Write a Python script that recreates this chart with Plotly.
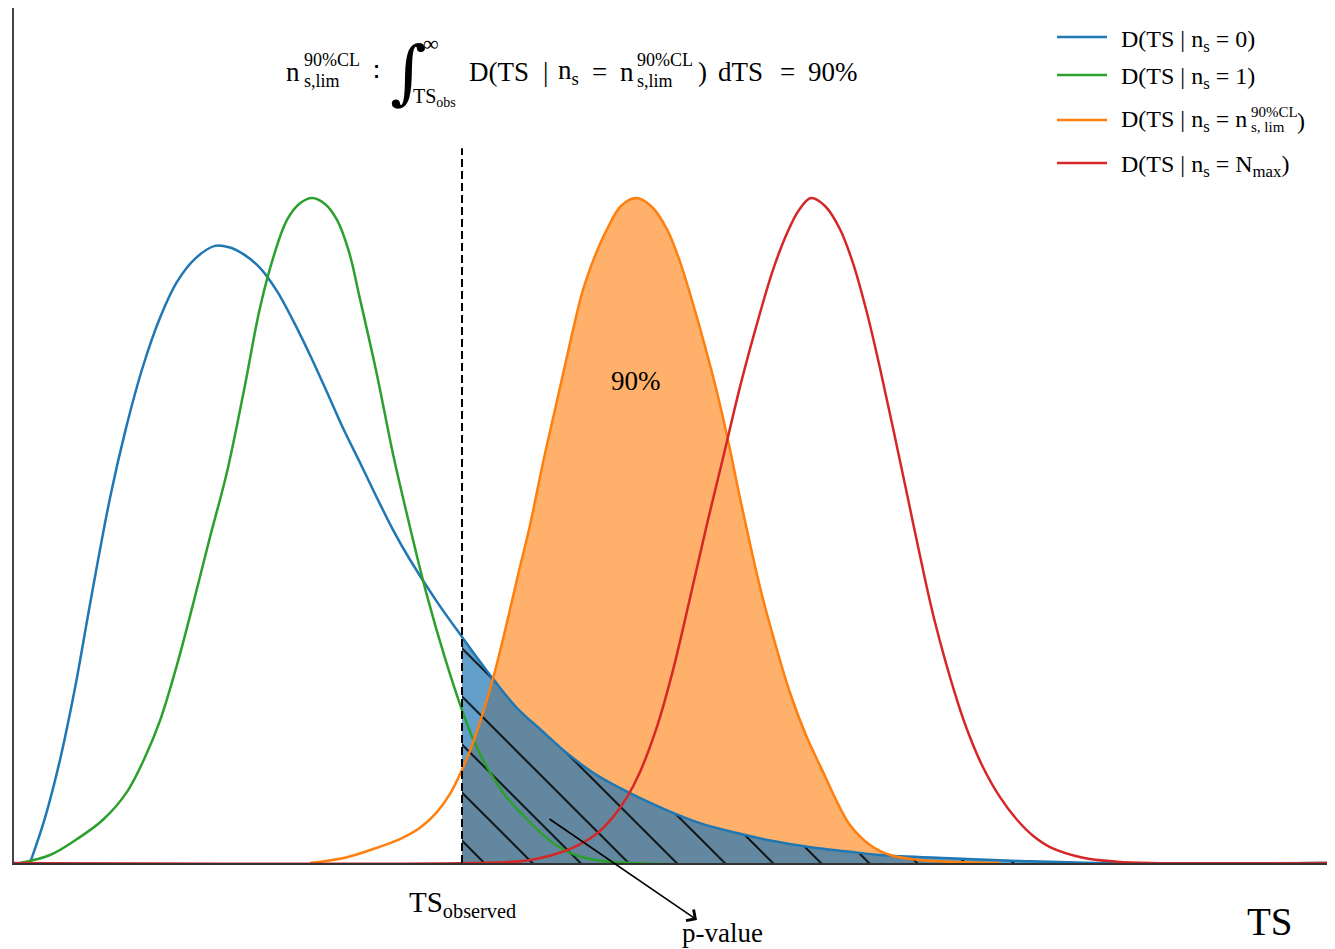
import plotly.graph_objects as go

# ---------------- data ----------------
TS_OBS = 4.48          # observed test statistic (dashed line)
TS_LINE_TOP = 1.075    # top of the dashed marker line

# D(TS | n_s = 0)
ts_bg = [0.16, 0.31, 0.46, 0.61, 0.76, 0.96, 1.12, 1.29, 1.46, 1.63, 1.82, 2.01,
         2.15, 2.29, 2.46, 2.63, 2.79, 2.96, 3.13, 3.29, 3.46, 3.63, 3.79, 3.96,
         4.22, 4.48, 4.80, 5.03, 5.27, 5.53, 5.80, 6.16, 6.52, 6.86, 7.23, 7.59,
         7.95, 8.36, 8.66, 9.36, 10.06, 10.86, 13.21]
d_bg = [0.000, 0.068, 0.155, 0.263, 0.389, 0.549, 0.654, 0.747, 0.820, 0.874,
        0.910, 0.928, 0.926, 0.916, 0.895, 0.860, 0.816, 0.764, 0.708, 0.654,
        0.602, 0.549, 0.501, 0.456, 0.395, 0.340, 0.275, 0.233, 0.200, 0.165,
        0.135, 0.105, 0.080, 0.060, 0.045, 0.033, 0.024, 0.017, 0.012, 0.007,
        0.003, 0.000, 0.000]

# D(TS | n_s = 1)
ts_n1 = [0.06, 0.36, 0.63, 0.89, 1.13, 1.31, 1.46, 1.63, 1.79, 1.96, 2.13, 2.30,
         2.46, 2.60, 2.73, 2.86, 2.98, 3.11, 3.23, 3.35, 3.46, 3.63, 3.79, 3.96,
         4.13, 4.31, 4.48, 4.60, 4.73, 4.91, 5.09, 5.27, 5.45, 5.63, 5.80, 6.16,
         13.21]
d_n1 = [0.000, 0.012, 0.036, 0.065, 0.107, 0.159, 0.214, 0.298, 0.389, 0.490,
        0.588, 0.711, 0.835, 0.914, 0.967, 0.992, 1.000, 0.991, 0.967, 0.919,
        0.848, 0.734, 0.615, 0.505, 0.402, 0.308, 0.230, 0.183, 0.144, 0.102,
        0.072, 0.045, 0.024, 0.011, 0.005, 0.000, 0.000]

# D(TS | n_s = n_s,lim^90%CL)
ts_lim = [2.96, 3.31, 3.63, 3.86, 4.06, 4.22, 4.36, 4.48, 4.57, 4.66, 4.80, 4.93,
          5.04, 5.16, 5.29, 5.43, 5.56, 5.69, 5.81, 5.93, 6.07, 6.22, 6.37, 6.53,
          6.66, 6.79, 6.91, 7.03, 7.15, 7.26, 7.46, 7.61, 7.76, 7.92, 8.09, 8.23,
          8.36, 8.56, 8.76, 9.03, 9.36, 9.86]
d_lim = [0.000, 0.008, 0.023, 0.036, 0.053, 0.075, 0.104, 0.140, 0.173, 0.212,
         0.283, 0.362, 0.433, 0.508, 0.602, 0.695, 0.782, 0.862, 0.913, 0.953,
         0.988, 1.000, 0.988, 0.953, 0.904, 0.841, 0.777, 0.708, 0.629, 0.549,
         0.415, 0.331, 0.256, 0.192, 0.137, 0.092, 0.057, 0.027, 0.012, 0.005,
         0.002, 0.000]

# D(TS | n_s = N_max)
ts_max = [0.00, 4.59, 5.09, 5.36, 5.59, 5.81, 5.99, 6.13, 6.26, 6.43, 6.59, 6.79,
          6.94, 7.09, 7.27, 7.46, 7.59, 7.73, 7.85, 7.97, 8.11, 8.26, 8.39, 8.53,
          8.66, 8.79, 8.93, 9.06, 9.21, 9.43, 9.56, 9.69, 9.86, 10.03, 10.19,
          10.36, 10.69, 11.03, 11.36, 13.21]
d_max = [0.000, 0.000, 0.003, 0.011, 0.023, 0.042, 0.069, 0.099, 0.137, 0.205,
         0.290, 0.418, 0.516, 0.609, 0.722, 0.827, 0.892, 0.947, 0.982, 1.000,
         0.988, 0.953, 0.902, 0.827, 0.744, 0.654, 0.555, 0.462, 0.362, 0.245,
         0.189, 0.144, 0.099, 0.065, 0.041, 0.024, 0.008, 0.002, 0.000, 0.000]

colors = ["#1f77b4", "#2ca02c", "#ff7f0e", "#d62728"]

# ---------------- layout geometry ----------------
# the page body adds an 8px offset; picture coordinates = figure coordinates + 8
OFF = 8
W, H = 1335 - OFF, 949 - OFF
PLOT_L, PLOT_T, BASE = 14, 8, 863          # picture pixels
ML, MR, MT = PLOT_L - OFF, 0, PLOT_T - OFF
MB = H - (BASE - OFF)
PW, PH = W - ML - MR, BASE - PLOT_T
X_MAX = PW / 100.0
Y_MAX = PH / 665.0
SERIF = "Liberation Serif, Times New Roman, serif"


def px(x):
    return (x - PLOT_L) / PW


def py(y):
    return (BASE - y) / PH


fig = go.Figure()

# orange 90% area (right of TS_obs)
xo = [t for t in ts_lim if t >= TS_OBS]
yo = [d for t, d in zip(ts_lim, d_lim) if t >= TS_OBS]
fig.add_trace(go.Scatter(x=xo, y=yo, mode="lines",
                         line=dict(width=0, shape="spline", smoothing=1.0),
                         fill="tozeroy", fillcolor="rgba(255,127,14,0.62)",
                         showlegend=False, hoverinfo="skip"))

# blue hatched p-value area (right of TS_obs)
xb = [t for t in ts_bg if t >= TS_OBS]
yb = [d for t, d in zip(ts_bg, d_bg) if t >= TS_OBS]
fig.add_trace(go.Scatter(x=xb, y=yb, mode="lines",
                         line=dict(width=0, shape="spline", smoothing=1.0),
                         fill="tozeroy", fillcolor="rgba(31,119,180,0.7)",
                         fillpattern=dict(shape="\\", fgcolor="black", fgopacity=1,
                                          bgcolor="rgba(31,119,180,0.7)",
                                          size=34, solidity=0.05),
                         showlegend=False, hoverinfo="skip"))

for xs, ys, c in [(ts_bg, d_bg, colors[0]), (ts_n1, d_n1, colors[1]),
                  (ts_lim, d_lim, colors[2]), (ts_max, d_max, colors[3])]:
    fig.add_trace(go.Scatter(x=xs, y=ys, mode="lines",
                             line=dict(color=c, width=2.5, shape="spline", smoothing=1.0),
                             showlegend=False))

shapes = [dict(type="line", xref="x", yref="y", x0=TS_OBS, x1=TS_OBS, y0=0, y1=TS_LINE_TOP,
               line=dict(color="black", width=2, dash="8px,4px"))]

ann = []


def txt(x, y, s, size, anchor="left", font=SERIF):
    ann.append(dict(xref="paper", yref="paper", x=px(x), y=py(y), text=s,
                    showarrow=False, xanchor=anchor, yanchor="middle",
                    font=dict(family=font, size=size, color="black")))


# formula at top
txt(284, 72, "n", 27)
txt(302, 60, "90%CL", 18)
txt(302, 81, "s,lim", 18)
txt(371, 72, "∶", 27)
txt(388, 72, "∫", 70, font="DejaVu Serif")
txt(421, 43, "∞", 22)
txt(411, 97, "TS<sub>obs</sub>", 20)
txt(467, 72, "D(TS", 27)
txt(541, 72, "|", 27)
txt(556, 72, "n<sub>s</sub>", 27)
txt(590, 72, "=", 27)
txt(618, 72, "n", 27)
txt(635, 60, "90%CL", 18)
txt(635, 81, "s,lim", 18)
txt(696, 72, ")", 27)
txt(716, 72, "dTS", 27)
txt(778, 72, "=", 27)
txt(806, 72, "90%", 27)

# legend (drawn by hand to allow stacked super/subscripts)
legend_rows = [
    (37, 41, "D(TS | n<sub>s</sub> = 0)"),
    (75, 78, "D(TS | n<sub>s</sub> = 1)"),
    (120, 121, "D(TS | n<sub>s</sub> = n"),
    (163, 166, "D(TS | n<sub>s</sub> = N<sub>max</sub>)"),
]
for (ly, ty, label), c in zip(legend_rows, colors):
    shapes.append(dict(type="line", xref="paper", yref="paper", x0=px(1057), x1=px(1107),
                       y0=py(ly), y1=py(ly), line=dict(color=c, width=2.5)))
    txt(1119, ty, label, 24)
txt(1249, 112, "90%CL", 15)
txt(1249, 127, "s, lim", 15)
txt(1295, 121, ")", 24)

# labels
txt(407, 904, "TS<sub>observed</sub>", 29)
txt(680, 933, "p-value", 27)
txt(1245, 921, "TS", 39)
txt(636, 381, "90%", 27, anchor="center")

# arrow to p-value
ann.append(dict(xref="paper", yref="paper", x=px(697), y=py(920), ax=548 - 697, ay=818 - 920,
                axref="pixel", ayref="pixel", text="", showarrow=True,
                arrowhead=4, arrowsize=1.6, arrowwidth=1.6, arrowcolor="black"))

fig.update_layout(
    width=W, height=H,
    margin=dict(l=ML, r=MR, t=MT, b=MB, pad=0),
    paper_bgcolor="white", plot_bgcolor="white",
    showlegend=False,
    shapes=shapes, annotations=ann,
    xaxis=dict(range=[0, X_MAX], showgrid=False, zeroline=False, showticklabels=False,
               ticks="", showline=True, linecolor="#333333", linewidth=2, layer="below traces"),
    yaxis=dict(range=[0, Y_MAX], showgrid=False, zeroline=False, showticklabels=False,
               ticks="", showline=True, linecolor="#444444", linewidth=2),
)

fig.write_html("out.html")
